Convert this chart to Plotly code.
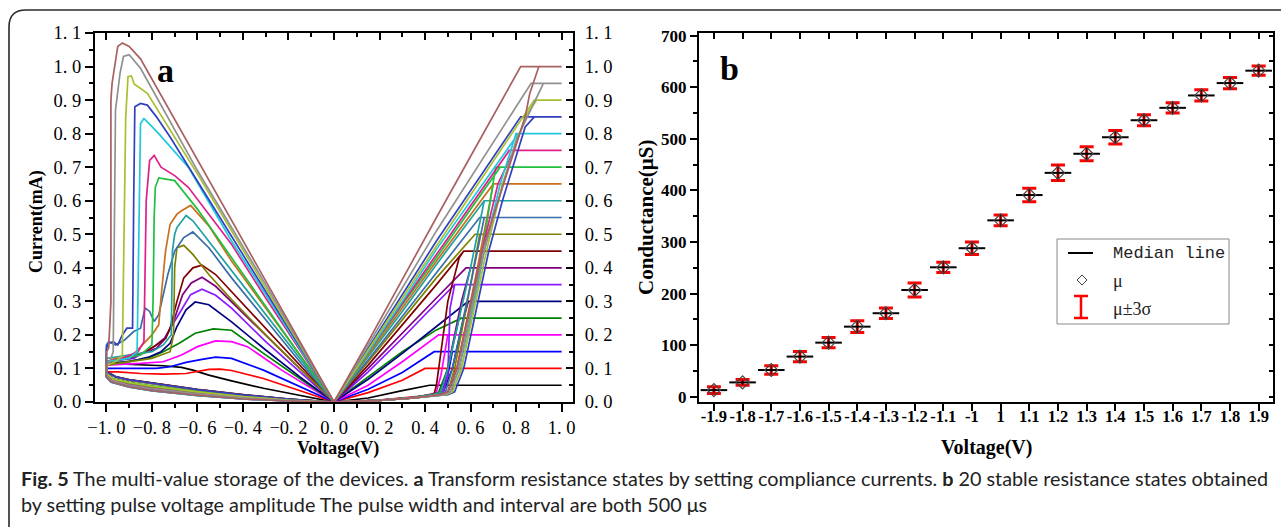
import plotly.graph_objects as go

W, H = 1281, 527

# ---------------- Panel a : I-V loops (voltage V, current mA) ----------------
COMPLIANCE_MA = [0.05, 0.10, 0.15, 0.20, 0.25, 0.30, 0.35, 0.40, 0.45, 0.50,
                 0.55, 0.60, 0.65, 0.70, 0.75, 0.80, 0.85, 0.90, 0.95, 1.00]
COLORS_A = ["#000000", "#FF0000", "#0000FF", "#FF00FF", "#008000", "#000080",
            "#8A1AFF", "#800080", "#800000", "#808000", "#3A6EA8", "#20A0A0",
            "#C87020", "#20C040", "#E0208A", "#20C8DC", "#3040C0", "#A8C030",
            "#909090", "#A86060"]

IV_005 = [(0, 0), (0.15, 0.012), (0.3, 0.034), (0.4, 0.048), (0.42, 0.05), (1.0, 0.05),
          (0.42, 0.05), (0.3, 0.034), (0.15, 0.012), (0, 0),
          (-0.16, 0.02), (-0.31, 0.041), (-0.45, 0.063), (-0.55, 0.08), (-0.62, 0.095),
          (-0.67, 0.103), (-0.75, 0.108), (-0.85, 0.11), (-0.95, 0.113), (-1.0, 0.115),
          (-1.0, 0.09), (-0.96, 0.075), (-0.9, 0.066), (-0.8, 0.056), (-0.6, 0.037),
          (-0.4, 0.021), (-0.2, 0.009), (0, 0)]
IV_010 = [(0, 0), (0.2, 0.006), (0.35, 0.015), (0.45, 0.022), (0.52, 0.03), (0.53, 0.1),
          (1.0, 0.1), (0.40, 0.1), (0.3, 0.065), (0.15, 0.028), (0, 0),
          (-0.16, 0.036), (-0.31, 0.07), (-0.45, 0.094), (-0.5, 0.098), (-0.55, 0.097),
          (-0.6, 0.09), (-0.65, 0.085), (-0.75, 0.083), (-0.85, 0.085), (-0.95, 0.09),
          (-1.0, 0.09), (-1.0, 0.085), (-0.97, 0.068), (-0.9, 0.058), (-0.8, 0.047),
          (-0.6, 0.03), (-0.4, 0.016), (-0.2, 0.006), (0, 0)]
IV_015 = [(0, 0), (0.2, 0.005), (0.35, 0.013), (0.45, 0.022), (0.47, 0.03), (0.50, 0.08),
          (0.52, 0.15), (1.0, 0.15), (0.44, 0.15), (0.3, 0.088), (0.15, 0.038), (0, 0),
          (-0.16, 0.05), (-0.31, 0.095), (-0.45, 0.13), (-0.52, 0.134), (-0.58, 0.127),
          (-0.65, 0.118), (-0.72, 0.105), (-0.78, 0.10), (-0.88, 0.10), (-1.0, 0.10),
          (-1.0, 0.08), (-0.98, 0.065), (-0.9, 0.05), (-0.8, 0.04), (-0.6, 0.024),
          (-0.4, 0.012), (-0.2, 0.004), (0, 0)]
IV_020 = [(0, 0), (0.2, 0.006), (0.35, 0.014), (0.43, 0.022), (0.45, 0.03), (0.47, 0.08),
          (0.50, 0.2), (1.0, 0.2), (0.46, 0.2), (0.3, 0.12), (0.15, 0.05), (0, 0),
          (-0.23, 0.095), (-0.38, 0.165), (-0.45, 0.18), (-0.52, 0.182), (-0.6, 0.165),
          (-0.67, 0.14), (-0.75, 0.12), (-0.85, 0.115), (-1.0, 0.11),
          (-1.0, 0.075), (-0.98, 0.06), (-0.9, 0.045), (-0.8, 0.034), (-0.6, 0.02),
          (-0.4, 0.009), (-0.2, 0.003), (0, 0)]
IV_025 = [(0, 0), (0.2, 0.005), (0.35, 0.013), (0.44, 0.022), (0.46, 0.03), (0.50, 0.1),
          (0.55, 0.25), (1.0, 0.25), (0.56, 0.25), (0.45, 0.215), (0.3, 0.15), (0.15, 0.075),
          (0, 0), (-0.15, 0.07), (-0.31, 0.145), (-0.45, 0.214), (-0.53, 0.218),
          (-0.61, 0.205), (-0.68, 0.175), (-0.75, 0.15), (-0.82, 0.13), (-0.92, 0.12),
          (-1.0, 0.115), (-1.0, 0.09), (-0.96, 0.075), (-0.9, 0.064), (-0.8, 0.054),
          (-0.6, 0.035), (-0.4, 0.02), (-0.2, 0.008), (0, 0)]
IV_030 = [(0, 0), (0.2, 0.005), (0.35, 0.012), (0.45, 0.02), (0.48, 0.03), (0.52, 0.1),
          (0.57, 0.25), (0.59, 0.3), (1.0, 0.3), (0.59, 0.3), (0.45, 0.225), (0.3, 0.145),
          (0.15, 0.068), (0, 0), (-0.15, 0.075), (-0.3, 0.155), (-0.45, 0.239),
          (-0.55, 0.29), (-0.61, 0.298), (-0.65, 0.275), (-0.69, 0.225), (-0.72, 0.175),
          (-0.76, 0.15), (-0.81, 0.135), (-0.9, 0.12), (-1.0, 0.115),
          (-1.0, 0.085), (-0.97, 0.068), (-0.9, 0.057), (-0.8, 0.046), (-0.6, 0.029),
          (-0.4, 0.015), (-0.2, 0.006), (0, 0)]
IV_035 = [(0, 0), (0.2, 0.005), (0.35, 0.012), (0.46, 0.022), (0.48, 0.03), (0.50, 0.08),
          (0.51, 0.28), (0.53, 0.35), (1.0, 0.35), (0.53, 0.35), (0.4, 0.26), (0.3, 0.19),
          (0.15, 0.09), (0, 0), (-0.15, 0.09), (-0.3, 0.18), (-0.45, 0.28), (-0.52, 0.318),
          (-0.58, 0.336), (-0.63, 0.32), (-0.67, 0.275), (-0.71, 0.23), (-0.745, 0.19),
          (-0.79, 0.165), (-0.88, 0.13), (-1.0, 0.12),
          (-1.0, 0.08), (-0.98, 0.066), (-0.9, 0.051), (-0.8, 0.041), (-0.6, 0.025),
          (-0.4, 0.012), (-0.2, 0.004), (0, 0)]
IV_040 = [(0, 0), (0.2, 0.005), (0.35, 0.013), (0.45, 0.022), (0.47, 0.03), (0.50, 0.1),
          (0.56, 0.3), (0.60, 0.4), (1.0, 0.4), (0.58, 0.4), (0.45, 0.31), (0.3, 0.205),
          (0.15, 0.1), (0, 0), (-0.15, 0.1), (-0.3, 0.2), (-0.45, 0.3), (-0.52, 0.345),
          (-0.58, 0.372), (-0.627, 0.355), (-0.665, 0.32), (-0.70, 0.25), (-0.74, 0.19),
          (-0.78, 0.16), (-0.88, 0.135), (-1.0, 0.12),
          (-1.0, 0.076), (-0.98, 0.06), (-0.9, 0.046), (-0.8, 0.035), (-0.6, 0.021),
          (-0.4, 0.01), (-0.2, 0.003), (0, 0)]
IV_045 = [(0, 0), (0.2, 0.005), (0.35, 0.013), (0.44, 0.025), (0.45, 0.05), (0.47, 0.15),
          (0.50, 0.3), (0.55, 0.43), (0.57, 0.45), (1.0, 0.45), (0.57, 0.45), (0.45, 0.35),
          (0.3, 0.23), (0.15, 0.11), (0, 0), (-0.15, 0.11), (-0.3, 0.22), (-0.45, 0.33),
          (-0.52, 0.38), (-0.58, 0.408), (-0.62, 0.40), (-0.66, 0.37), (-0.69, 0.30),
          (-0.72, 0.22), (-0.74, 0.19), (-0.78, 0.17), (-0.83, 0.15), (-0.9, 0.13),
          (-1.0, 0.12), (-1.0, 0.092), (-0.96, 0.076), (-0.9, 0.067), (-0.8, 0.057),
          (-0.6, 0.038), (-0.4, 0.022), (-0.2, 0.009), (0, 0)]
IV_050 = [(0, 0), (0.2, 0.005), (0.35, 0.013), (0.47, 0.024), (0.50, 0.03), (0.53, 0.1),
          (0.60, 0.35), (0.64, 0.5), (1.0, 0.5), (0.62, 0.5), (0.45, 0.37), (0.3, 0.245),
          (0.15, 0.12), (0, 0), (-0.15, 0.1), (-0.3, 0.2), (-0.45, 0.305), (-0.55, 0.38),
          (-0.62, 0.44), (-0.66, 0.467), (-0.69, 0.46), (-0.70, 0.40), (-0.705, 0.2),
          (-0.72, 0.15), (-0.8, 0.13), (-0.9, 0.12), (-1.0, 0.11),
          (-1.0, 0.084), (-0.97, 0.067), (-0.9, 0.056), (-0.8, 0.045), (-0.6, 0.028),
          (-0.4, 0.015), (-0.2, 0.005), (0, 0)]
IV_055 = [(0, 0), (0.2, 0.005), (0.35, 0.012), (0.46, 0.022), (0.49, 0.03), (0.52, 0.1),
          (0.60, 0.35), (0.66, 0.55), (1.0, 0.55), (0.64, 0.55), (0.45, 0.385), (0.3, 0.255),
          (0.15, 0.125), (0, 0), (-0.15, 0.12), (-0.3, 0.245), (-0.45, 0.37), (-0.55, 0.46),
          (-0.62, 0.507), (-0.66, 0.49), (-0.70, 0.45), (-0.73, 0.38), (-0.755, 0.30),
          (-0.77, 0.26), (-0.79, 0.24), (-0.81, 0.27), (-0.83, 0.28), (-0.85, 0.22),
          (-0.88, 0.21), (-0.92, 0.185), (-0.96, 0.17), (-0.99, 0.18), (-1.0, 0.17),
          (-1.0, 0.08), (-0.98, 0.064), (-0.9, 0.049), (-0.8, 0.039), (-0.6, 0.023),
          (-0.4, 0.011), (-0.2, 0.004), (0, 0)]
IV_060 = [(0, 0), (0.2, 0.006), (0.35, 0.014), (0.45, 0.024), (0.47, 0.03), (0.50, 0.1),
          (0.60, 0.4), (0.66, 0.6), (1.0, 0.6), (0.66, 0.6), (0.45, 0.41), (0.3, 0.27),
          (0.15, 0.135), (0, 0), (-0.15, 0.13), (-0.3, 0.26), (-0.45, 0.39), (-0.55, 0.48),
          (-0.62, 0.54), (-0.65, 0.556), (-0.69, 0.52), (-0.70, 0.50), (-0.71, 0.45),
          (-0.715, 0.20), (-0.75, 0.17), (-0.8, 0.15), (-0.9, 0.14), (-1.0, 0.13),
          (-1.0, 0.074), (-0.98, 0.059), (-0.9, 0.044), (-0.8, 0.033), (-0.6, 0.019),
          (-0.4, 0.009), (-0.2, 0.003), (0, 0)]
IV_065 = [(0, 0), (0.2, 0.005), (0.35, 0.012), (0.47, 0.022), (0.50, 0.03), (0.54, 0.1),
          (0.63, 0.4), (0.70, 0.65), (1.0, 0.65), (0.70, 0.65), (0.45, 0.42), (0.3, 0.28),
          (0.15, 0.14), (0, 0), (-0.15, 0.14), (-0.3, 0.28), (-0.45, 0.42), (-0.55, 0.525),
          (-0.63, 0.586), (-0.67, 0.57), (-0.69, 0.56), (-0.72, 0.53), (-0.74, 0.45),
          (-0.76, 0.31), (-0.77, 0.23), (-0.80, 0.20), (-0.84, 0.17), (-0.87, 0.15),
          (-0.91, 0.13), (-0.96, 0.13), (-1.0, 0.12),
          (-1.0, 0.09), (-0.96, 0.074), (-0.9, 0.065), (-0.8, 0.055), (-0.6, 0.036),
          (-0.4, 0.02), (-0.2, 0.008), (0, 0)]
IV_070 = [(0, 0), (0.2, 0.005), (0.35, 0.012), (0.48, 0.022), (0.51, 0.03), (0.55, 0.1),
          (0.64, 0.4), (0.71, 0.70), (1.0, 0.70), (0.73, 0.70), (0.45, 0.43), (0.3, 0.29),
          (0.15, 0.145), (0, 0), (-0.15, 0.14), (-0.3, 0.285), (-0.45, 0.43), (-0.6, 0.575),
          (-0.7, 0.66), (-0.77, 0.668), (-0.785, 0.64), (-0.79, 0.55), (-0.795, 0.3),
          (-0.80, 0.17), (-0.85, 0.14), (-0.92, 0.13), (-1.0, 0.12),
          (-1.0, 0.086), (-0.97, 0.069), (-0.9, 0.058), (-0.8, 0.048), (-0.6, 0.031),
          (-0.4, 0.016), (-0.2, 0.006), (0, 0)]
IV_075 = [(0, 0), (0.2, 0.005), (0.35, 0.012), (0.47, 0.022), (0.50, 0.03), (0.54, 0.1),
          (0.65, 0.45), (0.72, 0.65), (0.79, 0.75), (1.0, 0.75), (0.77, 0.75), (0.45, 0.44),
          (0.3, 0.295), (0.15, 0.148), (0, 0), (-0.15, 0.155), (-0.3, 0.31), (-0.45, 0.47),
          (-0.64, 0.64), (-0.70, 0.675), (-0.76, 0.70), (-0.79, 0.735), (-0.81, 0.72),
          (-0.825, 0.6), (-0.83, 0.3), (-0.835, 0.18), (-0.86, 0.15), (-0.93, 0.13),
          (-1.0, 0.12), (-1.0, 0.081), (-0.98, 0.065), (-0.9, 0.05), (-0.8, 0.04),
          (-0.6, 0.024), (-0.4, 0.012), (-0.2, 0.004), (0, 0)]
IV_080 = [(0, 0), (0.2, 0.005), (0.35, 0.012), (0.49, 0.022), (0.52, 0.03), (0.56, 0.1),
          (0.66, 0.45), (0.73, 0.65), (0.80, 0.80), (1.0, 0.80), (0.81, 0.80), (0.45, 0.455),
          (0.3, 0.30), (0.15, 0.15), (0, 0), (-0.15, 0.16), (-0.3, 0.32), (-0.45, 0.48),
          (-0.64, 0.70), (-0.77, 0.80), (-0.82, 0.835), (-0.835, 0.845), (-0.85, 0.83),
          (-0.855, 0.6), (-0.86, 0.3), (-0.865, 0.15), (-0.9, 0.13), (-1.0, 0.12),
          (-1.0, 0.075), (-0.98, 0.06), (-0.9, 0.045), (-0.8, 0.034), (-0.6, 0.02),
          (-0.4, 0.009), (-0.2, 0.003), (0, 0)]
IV_085 = [(0, 0), (0.2, 0.005), (0.35, 0.012), (0.50, 0.022), (0.53, 0.03), (0.57, 0.1),
          (0.68, 0.45), (0.74, 0.6), (0.84, 0.82), (0.88, 0.85), (1.0, 0.85), (0.82, 0.85),
          (0.45, 0.48), (0.3, 0.32), (0.15, 0.16), (0, 0), (-0.15, 0.165), (-0.3, 0.33),
          (-0.45, 0.495), (-0.6, 0.66), (-0.72, 0.79), (-0.78, 0.85), (-0.82, 0.885),
          (-0.85, 0.89), (-0.875, 0.88), (-0.88, 0.6), (-0.885, 0.22), (-0.91, 0.22),
          (-0.93, 0.2), (-0.95, 0.17), (-0.97, 0.18), (-0.99, 0.175), (-1.0, 0.16),
          (-1.0, 0.09), (-0.96, 0.075), (-0.9, 0.066), (-0.8, 0.056), (-0.6, 0.037),
          (-0.4, 0.021), (-0.2, 0.009), (0, 0)]
IV_090 = [(0, 0), (0.2, 0.005), (0.35, 0.012), (0.49, 0.022), (0.52, 0.03), (0.56, 0.1),
          (0.67, 0.45), (0.74, 0.65), (0.84, 0.85), (0.89, 0.9), (1.0, 0.9), (0.88, 0.9),
          (0.45, 0.465), (0.3, 0.31), (0.15, 0.155), (0, 0), (-0.15, 0.17), (-0.3, 0.34),
          (-0.45, 0.51), (-0.6, 0.68), (-0.82, 0.92), (-0.86, 0.94), (-0.878, 0.948),
          (-0.89, 0.972), (-0.905, 0.97), (-0.915, 0.85), (-0.925, 0.3), (-0.93, 0.14),
          (-0.96, 0.12), (-1.0, 0.11), (-1.0, 0.085), (-0.97, 0.068), (-0.9, 0.058),
          (-0.8, 0.047), (-0.6, 0.03), (-0.4, 0.016), (-0.2, 0.006), (0, 0)]
IV_095 = [(0, 0), (0.2, 0.005), (0.35, 0.012), (0.48, 0.022), (0.51, 0.03), (0.55, 0.1),
          (0.66, 0.45), (0.70, 0.55), (0.80, 0.78), (0.92, 0.95), (1.0, 0.95), (0.866, 0.95),
          (0.45, 0.51), (0.3, 0.34), (0.15, 0.17), (0, 0), (-0.15, 0.175), (-0.3, 0.35),
          (-0.45, 0.52), (-0.6, 0.69), (-0.85, 0.995), (-0.9, 1.035), (-0.925, 1.03),
          (-0.94, 0.98), (-0.96, 0.87), (-0.965, 0.5), (-0.97, 0.15), (-0.985, 0.12),
          (-1.0, 0.11), (-1.0, 0.08), (-0.98, 0.065), (-0.9, 0.05), (-0.8, 0.04),
          (-0.6, 0.024), (-0.4, 0.012), (-0.2, 0.004), (0, 0)]
IV_100 = [(0, 0), (0.2, 0.005), (0.35, 0.012), (0.47, 0.022), (0.50, 0.03), (0.54, 0.1),
          (0.65, 0.45), (0.72, 0.6), (0.84, 0.85), (0.86, 0.92), (0.90, 1.0), (1.0, 1.0),
          (0.82, 1.0), (0.45, 0.55), (0.3, 0.365), (0.15, 0.18), (0, 0), (-0.15, 0.18),
          (-0.3, 0.36), (-0.453, 0.542), (-0.6, 0.72), (-0.85, 1.023), (-0.9, 1.06),
          (-0.93, 1.07), (-0.95, 1.06), (-0.975, 0.95), (-0.98, 0.9), (-0.98, 0.3),
          (-0.99, 0.16), (-1.0, 0.15), (-1.0, 0.075), (-0.98, 0.06), (-0.9, 0.045),
          (-0.8, 0.034), (-0.6, 0.02), (-0.4, 0.009), (-0.2, 0.003), (0, 0)]

IV_CURVES = [IV_005, IV_010, IV_015, IV_020, IV_025, IV_030, IV_035, IV_040, IV_045, IV_050,
             IV_055, IV_060, IV_065, IV_070, IV_075, IV_080, IV_085, IV_090, IV_095, IV_100]

A_XTICKS = [-1.0, -0.8, -0.6, -0.4, -0.2, 0.0, 0.2, 0.4, 0.6, 0.8, 1.0]
A_XTEXT = ["\u22121. 0", "\u22120. 8", "\u22120. 6", "\u22120. 4", "\u22120. 2", "0. 0",
           "0. 2", "0. 4", "0. 6", "0. 8", "1. 0"]
A_YTICKS = [0.0, 0.1, 0.2, 0.3, 0.4, 0.5, 0.6, 0.7, 0.8, 0.9, 1.0, 1.1]
A_YTEXT = ["0. 0", "0. 1", "0. 2", "0. 3", "0. 4", "0. 5", "0. 6", "0. 7", "0. 8", "0. 9",
           "1. 0", "1. 1"]

# ---------------- Panel b : conductance states ----------------
B_VOLT_LABELS = ["-1.9", "-1.8", "-1.7", "-1.6", "-1.5", "-1.4", "-1.3", "-1.2", "-1.1", "-1",
                 "1", "1.1", "1.2", "1.3", "1.4", "1.5", "1.6", "1.7", "1.8", "1.9"]
B_MU = [13, 28, 52, 78, 105, 136, 162, 207, 251, 288,
        342, 391, 434, 471, 503, 536, 560, 584, 608, 632]
B_MEDIAN = [13, 28, 52, 78, 105, 136, 162, 207, 251, 288,
            342, 391, 434, 471, 503, 536, 560, 584, 608, 632]
B_3SIGMA = [6.5, 5.5, 8, 10, 10, 11.5, 10, 13.5, 10, 12,
            10.5, 13, 15, 13.5, 13, 10.5, 10, 11, 11, 9]
B_YTICKS = [0, 100, 200, 300, 400, 500, 600, 700]

# ---------------- helpers (pixel -> paper) ----------------
def px(x):
    return x / W


def py(y):
    return 1 - y / H


SERIF = "Liberation Serif, Times New Roman, serif"
CAPTION_FONT = "Lato, Liberation Sans, sans-serif"

fig = go.Figure()

# panel a traces
for curve, col in zip(IV_CURVES, COLORS_A):
    fig.add_trace(go.Scatter(x=[p[0] for p in curve], y=[p[1] for p in curve],
                             mode="lines", line=dict(color=col, width=1.7),
                             xaxis="x", yaxis="y", showlegend=False, hoverinfo="skip"))
# dummy traces to activate overlay axes
fig.add_trace(go.Scatter(x=[None], y=[None], xaxis="x2", yaxis="y", showlegend=False))
fig.add_trace(go.Scatter(x=[None], y=[None], xaxis="x", yaxis="y2", showlegend=False))
fig.add_trace(go.Scatter(x=[None], y=[None], xaxis="x4", yaxis="y3", showlegend=False))
fig.add_trace(go.Scatter(x=[None], y=[None], xaxis="x3", yaxis="y4", showlegend=False))

# panel b traces
idx = list(range(len(B_VOLT_LABELS)))
fig.add_trace(go.Scatter(x=idx, y=B_MU, mode="markers", marker=dict(size=1, opacity=0),
                         error_y=dict(type="data", array=B_3SIGMA, color="#FF0000",
                                      thickness=3, width=7),
                         xaxis="x3", yaxis="y3", showlegend=False))
fig.add_trace(go.Scatter(x=idx, y=B_MU, mode="markers", marker=dict(size=1, opacity=0),
                         error_y=dict(type="data", array=B_3SIGMA, color="#000000",
                                      thickness=1, width=0),
                         xaxis="x3", yaxis="y3", showlegend=False))
fig.add_trace(go.Scatter(x=idx, y=B_MEDIAN, mode="markers",
                         marker=dict(symbol="line-ew", size=19,
                                     line=dict(color="#000000", width=2)),
                         xaxis="x3", yaxis="y3", showlegend=False))
fig.add_trace(go.Scatter(x=idx, y=B_MU, mode="markers",
                         marker=dict(symbol="diamond-open", size=10, color="#444444",
                                     line=dict(width=1.2)),
                         xaxis="x3", yaxis="y3", showlegend=False))

axis_common = dict(showgrid=False, zeroline=False, showline=True, linecolor="#000000",
                   linewidth=2, tickcolor="#000000", tickwidth=2, automargin=False)

a_dom_x = [px(95), px(573)]
b_dom_x = [px(699), px(1273)]
dom_y = [py(402), py(33)]

fig.update_layout(
    width=W, height=H, margin=dict(l=0, r=0, t=0, b=0, pad=0),
    paper_bgcolor="white", plot_bgcolor="white", showlegend=False,
    xaxis=dict(domain=a_dom_x, anchor="y", range=[-1.05, 1.05], tickmode="array",
               tickvals=A_XTICKS, ticktext=A_XTEXT, ticks="outside", ticklen=8,
               tickfont=dict(family=SERIF, size=18.5, color="#000"),
               minor=dict(tickmode="linear", tick0=0, dtick=0.1, ticks="outside",
                          ticklen=4, tickwidth=1.5, tickcolor="#000"),
               **axis_common),
    xaxis2=dict(overlaying="x", side="top", anchor="y", range=[-1.05, 1.05],
                tickmode="array", tickvals=A_XTICKS, showticklabels=False,
                ticks="inside", ticklen=7,
                minor=dict(tickmode="linear", tick0=0, dtick=0.1, ticks="inside",
                           ticklen=4, tickwidth=1.5, tickcolor="#000"),
                **axis_common),
    yaxis=dict(domain=dom_y, anchor="x", range=[0, 1.1], tickmode="array",
               tickvals=A_YTICKS, ticktext=A_YTEXT, ticks="outside", ticklen=8,
               tickfont=dict(family=SERIF, size=18.5, color="#000"),
               minor=dict(tickmode="linear", tick0=0, dtick=0.05, ticks="outside",
                          ticklen=4, tickwidth=1.5, tickcolor="#000"),
               **axis_common),
    yaxis2=dict(overlaying="y", side="right", anchor="x", range=[0, 1.1], tickmode="array",
                tickvals=A_YTICKS, ticktext=A_YTEXT, ticks="inside", ticklen=7,
                ticklabelstandoff=6,
                tickfont=dict(family=SERIF, size=18.5, color="#000"),
                minor=dict(tickmode="linear", tick0=0, dtick=0.05, ticks="inside",
                           ticklen=4, tickwidth=1.5, tickcolor="#000"),
                **axis_common),
    xaxis3=dict(domain=b_dom_x, anchor="y3", range=[-0.52, 19.5], tickmode="array",
                tickvals=idx, ticktext=B_VOLT_LABELS, ticks="outside", ticklen=7,
                ticklabelstandoff=-9,
                tickfont=dict(family=SERIF, size=16.5, color="#000", weight="bold"),
                **axis_common),
    xaxis4=dict(overlaying="x3", side="top", anchor="y3", range=[-0.52, 19.5],
                tickmode="array", tickvals=idx, showticklabels=False, ticks="inside",
                ticklen=6, **axis_common),
    yaxis3=dict(domain=dom_y, anchor="x3", range=[-10, 705], tickmode="array",
                tickvals=B_YTICKS, ticks="outside", ticklen=7,
                tickfont=dict(family=SERIF, size=17, color="#000", weight="bold"),
                minor=dict(tickmode="linear", tick0=0, dtick=50, ticks="outside",
                           ticklen=4, tickwidth=1.5, tickcolor="#000"),
                **axis_common),
    yaxis4=dict(overlaying="y3", side="right", anchor="x3", range=[-10, 705],
                tickmode="linear", tick0=0, dtick=50, showticklabels=False,
                ticks="inside", ticklen=4, **axis_common),
)

annotations = [
    dict(x=px(165), y=py(70), text="<b>a</b>", font=dict(family=SERIF, size=34, color="#000")),
    dict(x=px(729), y=py(68), text="<b>b</b>", font=dict(family=SERIF, size=34, color="#000")),
    dict(x=px(36), y=py(222), text="<b>Current(mA)</b>", textangle=-90,
         font=dict(family=SERIF, size=18, color="#000")),
    dict(x=px(338), y=py(448), text="<b>Voltage(V)</b>",
         font=dict(family=SERIF, size=18, color="#000")),
    dict(x=px(646), y=py(218), text="<b>Conductance(\u03bcS)</b>", textangle=-90,
         font=dict(family=SERIF, size=21, color="#000")),
    dict(x=px(986), y=py(447), text="<b>Voltage(V)</b>",
         font=dict(family=SERIF, size=20, color="#000")),
    # legend texts (panel b)
    dict(x=px(1111), y=py(253), xanchor="left", text="Median line",
         font=dict(family="Liberation Mono, monospace", size=17, color="#222")),
    dict(x=px(1111), y=py(281), xanchor="left", text="\u03bc",
         font=dict(family=SERIF, size=18, color="#222")),
    dict(x=px(1111), y=py(309), xanchor="left", text="\u03bc\u00b13\u03c3",
         font=dict(family=SERIF, size=18, color="#222")),
    # caption
    dict(x=px(19), y=py(478), xanchor="left",
         text="<b>Fig. 5</b> The multi-value storage of the devices. <b>a</b> Transform "
              "resistance states by setting compliance currents. <b>b</b> 20 stable "
              "resistance states obtained",
         font=dict(family=CAPTION_FONT, size=19.8, color="#222")),
    dict(x=px(19), y=py(504), xanchor="left",
         text="by setting pulse voltage amplitude The pulse width and interval are both 500 \u03bcs",
         font=dict(family=CAPTION_FONT, size=19.8, color="#222")),
]
for a in annotations:
    a.setdefault("xref", "paper")
    a.setdefault("yref", "paper")
    a.setdefault("showarrow", False)
    a.setdefault("xanchor", "center")
    a.setdefault("yanchor", "middle")
fig.update_layout(annotations=annotations)

shapes = [
    # outer rounded frame
    dict(type="path", xref="paper", yref="paper",
         path=f"M {px(9)},{py(560)} L {px(9)},{py(27)} Q {px(9)},{py(10)} {px(26)},{py(10)} "
              f"L {px(1320)},{py(10)}",
         line=dict(color="#2a2a2a", width=1.6)),
    # legend box
    dict(type="rect", xref="paper", yref="paper", x0=px(1057), x1=px(1229),
         y0=py(324), y1=py(239), line=dict(color="#888888", width=1)),
    dict(type="line", xref="paper", yref="paper", x0=px(1068), x1=px(1093),
         y0=py(253), y1=py(253), line=dict(color="#000", width=2)),
    dict(type="path", xref="paper", yref="paper",
         path=f"M {px(1082)},{py(275)} L {px(1087)},{py(280)} L {px(1082)},{py(285)} "
              f"L {px(1077)},{py(280)} Z",
         line=dict(color="#444", width=1)),
    dict(type="line", xref="paper", yref="paper", x0=px(1081), x1=px(1081),
         y0=py(296), y1=py(318), line=dict(color="#FF0000", width=2.5)),
    dict(type="line", xref="paper", yref="paper", x0=px(1074), x1=px(1088),
         y0=py(296), y1=py(296), line=dict(color="#FF0000", width=2.5)),
    dict(type="line", xref="paper", yref="paper", x0=px(1074), x1=px(1088),
         y0=py(318), y1=py(318), line=dict(color="#FF0000", width=2.5)),
]
fig.update_layout(shapes=shapes)

fig.write_html("out.html",
               post_script="document.body.style.margin='0';"
                           "document.body.style.overflow='hidden';")
